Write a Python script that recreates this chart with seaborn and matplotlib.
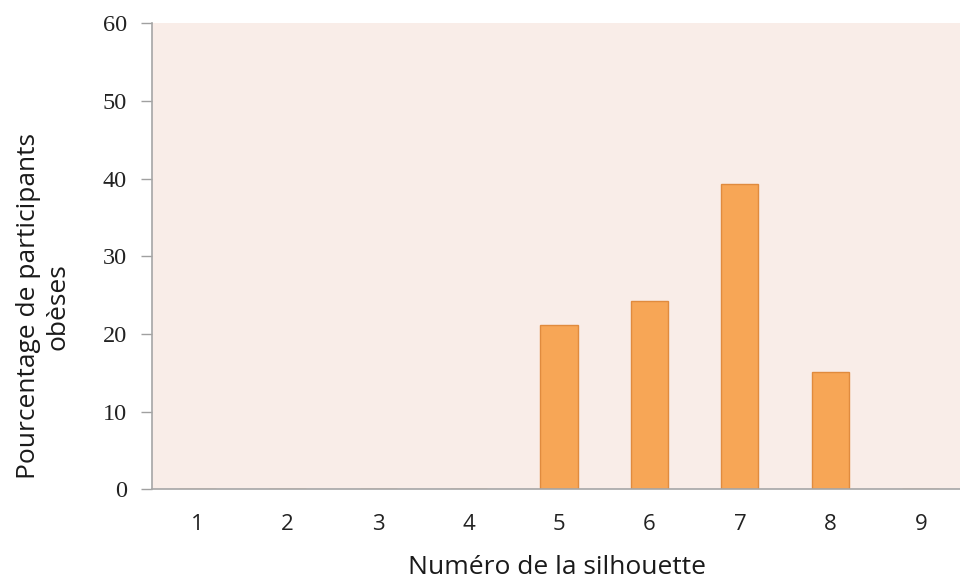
import matplotlib
matplotlib.use("Agg")
import matplotlib.pyplot as plt
import seaborn as sns
import pandas as pd

categories = ["1", "2", "3", "4", "5", "6", "7", "8", "9"]
values = [0, 0, 0, 0, 21.2, 24.2, 39.3, 15.1, 0]
yticks = [0, 10, 20, 30, 40, 50, 60]

df = pd.DataFrame({"silhouette": categories, "pct": values})

sns.set_theme(style="white")
fig = plt.figure(figsize=(9.6, 5.81), dpi=100)
ax = fig.add_axes([152/960, (581-489.3)/581, 814/960, (489.3-23.3)/581])
ax.set_facecolor("#F9EDE8")

sns.barplot(data=df, x="silhouette", y="pct", ax=ax, color="#F7A656",
            width=0.41, edgecolor="#E08B3E", linewidth=1.0, saturation=1)

ax.set_ylim(0, 60)
ax.set_xlim(-0.5, 8.5)
ax.set_yticks(yticks)
ax.set_yticklabels([str(t) for t in yticks], family="Liberation Serif", fontsize=17.5,
                   color="#222222")
ax.set_xticks(range(len(categories)))
ax.set_xticklabels(categories, family="Open Sans", fontsize=16, color="#222222")
ax.tick_params(axis="y", length=8, width=1, color="#A0A0A0", pad=10, left=True, direction="out")
ax.tick_params(axis="x", length=0, pad=18)

for s in ["top", "right"]:
    ax.spines[s].set_visible(False)
for s in ["left", "bottom"]:
    ax.spines[s].set_color("#A6A6A6")
    ax.spines[s].set_linewidth(1.2)

ax.set_xlabel("Numéro de la silhouette", family="Open Sans", fontsize=19,
              fontweight="medium", color="#1a1a1a")
ax.xaxis.label.set_verticalalignment("center")
ax.xaxis.set_label_coords(0.4975, -0.167)

ax.set_ylabel("Pourcentage de participants\nobèses", family="Open Sans", fontsize=19,
              fontweight="medium", color="#1a1a1a", linespacing=1.25)
ax.yaxis.label.set_verticalalignment("center")
ax.yaxis.set_label_coords((43.5 - 152) / 814, 0.393)

fig.savefig("out.png", dpi=100)
